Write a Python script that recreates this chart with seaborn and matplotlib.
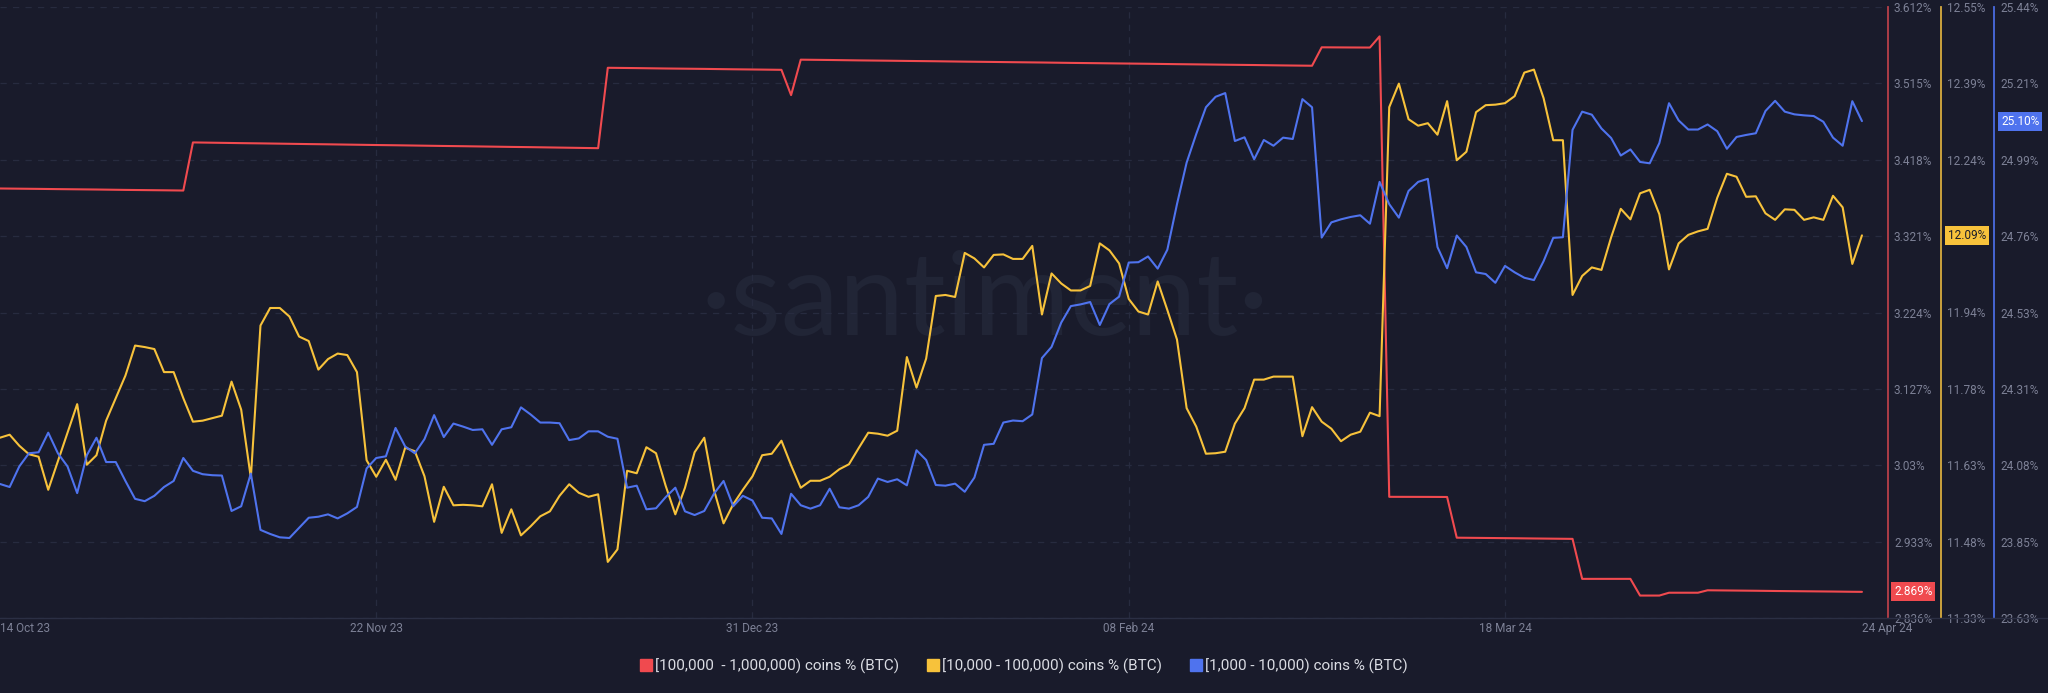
import numpy as np
import pandas as pd
import matplotlib
matplotlib.use("Agg")
import matplotlib.pyplot as plt
import matplotlib.transforms as mtransforms
from matplotlib.lines import Line2D
import seaborn as sns

# ---------------- data ----------------
start_date = "2023-10-14"

series_names = [
    "[100,000  - 1,000,000) coins % (BTC)",
    "[10,000 - 100,000) coins % (BTC)",
    "[1,000 - 10,000) coins % (BTC)",
]

red_vals = [
    3.3815, 3.3814, 3.3812, 3.3811, 3.3810, 3.3808, 3.3807, 3.3806, 3.3804, 3.3803,
    3.3802, 3.3800, 3.3799, 3.3797, 3.3796, 3.3795, 3.3793, 3.3792, 3.3790, 3.3789,
    3.4400, 3.4398, 3.4397, 3.4395, 3.4393, 3.4391, 3.4390, 3.4388, 3.4386, 3.4385,
    3.4383, 3.4381, 3.4379, 3.4378, 3.4376, 3.4374, 3.4373, 3.4371, 3.4369, 3.4367,
    3.4366, 3.4364, 3.4362, 3.4361, 3.4359, 3.4357, 3.4355, 3.4354, 3.4352, 3.4350,
    3.4349, 3.4347, 3.4345, 3.4343, 3.4342, 3.4340, 3.4338, 3.4337, 3.4335, 3.4333,
    3.4331, 3.4329, 3.4327,
    3.5348, 3.5347, 3.5345, 3.5344, 3.5342, 3.5341, 3.5339, 3.5338, 3.5336, 3.5335,
    3.5334, 3.5332, 3.5331, 3.5329, 3.5328, 3.5326, 3.5325, 3.5323, 3.5322,
    3.5001,
    3.5451, 3.5450, 3.5448, 3.5447, 3.5445, 3.5444, 3.5442, 3.5441, 3.5439, 3.5438,
    3.5436, 3.5435, 3.5434, 3.5432, 3.5431, 3.5429, 3.5428, 3.5426, 3.5425, 3.5423,
    3.5422, 3.5420, 3.5419, 3.5418, 3.5416, 3.5415, 3.5413, 3.5412, 3.5410, 3.5409,
    3.5407, 3.5406, 3.5404, 3.5403, 3.5402, 3.5400, 3.5399, 3.5397, 3.5396, 3.5394,
    3.5393, 3.5391, 3.5390, 3.5388, 3.5387, 3.5386, 3.5384, 3.5383, 3.5381, 3.5380,
    3.5378, 3.5377, 3.5375, 3.5374,
    3.5608, 3.5607, 3.5607, 3.5606, 3.5606, 3.5605,
    3.5747,
    2.9899, 2.9899, 2.9898, 2.9898, 2.9898, 2.9897, 2.9897,
    2.9380, 2.9379, 2.9378, 2.9376, 2.9375, 2.9374, 2.9373, 2.9371, 2.9370, 2.9369,
    2.9368, 2.9366, 2.9365,
    2.8857, 2.8857, 2.8857, 2.8857, 2.8857, 2.8857,
    2.8645, 2.8645, 2.8645,
    2.8681, 2.8681, 2.8681, 2.8681,
    2.8712, 2.8711, 2.8709, 2.8708, 2.8707, 2.8706, 2.8704, 2.8703, 2.8702, 2.8701,
    2.8699, 2.8698, 2.8697, 2.8696, 2.8694, 2.8693, 2.8692,
]

yellow_vals = [
    11.690, 11.696, 11.674, 11.657, 11.652, 11.586, 11.643, 11.700, 11.757, 11.636,
    11.655, 11.724, 11.769, 11.814, 11.874, 11.871, 11.867, 11.821, 11.821, 11.769,
    11.722, 11.724, 11.729, 11.734, 11.802, 11.746, 11.610, 11.914, 11.949, 11.949,
    11.932, 11.892, 11.883, 11.826, 11.847, 11.858, 11.855, 11.821, 11.645, 11.612,
    11.646, 11.606, 11.670, 11.663, 11.613, 11.522, 11.592, 11.555, 11.556, 11.555,
    11.553, 11.597, 11.500, 11.547, 11.495, 11.513, 11.533, 11.543, 11.574, 11.597,
    11.580, 11.572, 11.577, 11.442, 11.467, 11.624, 11.619, 11.671, 11.659, 11.594,
    11.537, 11.590, 11.661, 11.690, 11.586, 11.519, 11.557, 11.586, 11.613, 11.655,
    11.658, 11.684, 11.635, 11.590, 11.604, 11.604, 11.612, 11.627, 11.637, 11.669,
    11.700, 11.698, 11.694, 11.704, 11.851, 11.790, 11.848, 11.973, 11.975, 11.971,
    12.059, 12.048, 12.030, 12.055, 12.056, 12.047, 12.047, 12.073, 11.936, 12.018,
    11.998, 11.984, 11.984, 11.993, 12.078, 12.064, 12.038, 11.967, 11.942, 11.936,
    12.002, 11.945, 11.886, 11.749, 11.712, 11.658, 11.659, 11.662, 11.718, 11.749,
    11.806, 11.806, 11.812, 11.812, 11.812, 11.693, 11.751, 11.722, 11.708, 11.683,
    11.696, 11.702, 11.740, 11.733, 12.350, 12.397, 12.326, 12.313, 12.318, 12.295,
    12.362, 12.244, 12.261, 12.340, 12.354, 12.355, 12.358, 12.372, 12.419, 12.425,
    12.368, 12.284, 12.284, 11.975, 12.013, 12.030, 12.025, 12.090, 12.147, 12.126,
    12.178, 12.185, 12.136, 12.026, 12.078, 12.095, 12.102, 12.107, 12.169, 12.217,
    12.211, 12.171, 12.172, 12.138, 12.125, 12.146, 12.145, 12.125, 12.130, 12.125,
    12.173, 12.150, 12.037, 12.094,
]

blue_vals = [
    24.027, 24.018, 24.079, 24.118, 24.121, 24.179, 24.118, 24.079, 24.000, 24.112,
    24.164, 24.092, 24.092, 24.036, 23.983, 23.976, 23.992, 24.018, 24.036, 24.104,
    24.066, 24.056, 24.053, 24.052, 23.947, 23.961, 24.058, 23.891, 23.879, 23.869,
    23.867, 23.897, 23.927, 23.930, 23.937, 23.925, 23.940, 23.959, 24.073, 24.104,
    24.109, 24.193, 24.138, 24.118, 24.160, 24.231, 24.166, 24.206, 24.197, 24.187,
    24.189, 24.143, 24.189, 24.195, 24.254, 24.233, 24.209, 24.209, 24.207, 24.157,
    24.162, 24.183, 24.183, 24.167, 24.161, 24.016, 24.022, 23.952, 23.955, 23.988,
    24.016, 23.946, 23.935, 23.947, 23.998, 24.036, 23.961, 23.992, 23.978, 23.927,
    23.925, 23.879, 23.998, 23.964, 23.954, 23.964, 24.013, 23.958, 23.954, 23.964,
    23.989, 24.043, 24.033, 24.041, 24.023, 24.127, 24.098, 24.024, 24.022, 24.028,
    24.004, 24.046, 24.143, 24.146, 24.209, 24.215, 24.213, 24.233, 24.400, 24.433,
    24.505, 24.554, 24.559, 24.566, 24.498, 24.560, 24.582, 24.683, 24.684, 24.701,
    24.665, 24.721, 24.856, 24.979, 25.064, 25.143, 25.174, 25.185, 25.043, 25.054,
    24.989, 25.046, 25.029, 25.053, 25.049, 25.167, 25.143, 24.757, 24.802, 24.811,
    24.818, 24.823, 24.798, 24.922, 24.856, 24.816, 24.895, 24.922, 24.931, 24.729,
    24.666, 24.763, 24.729, 24.654, 24.649, 24.623, 24.673, 24.654, 24.638, 24.631,
    24.687, 24.756, 24.758, 25.076, 25.130, 25.121, 25.080, 25.052, 25.000, 25.018,
    24.981, 24.977, 25.037, 25.155, 25.104, 25.077, 25.077, 25.092, 25.072, 25.020,
    25.055, 25.061, 25.066, 25.132, 25.162, 25.130, 25.122, 25.119, 25.117, 25.100,
    25.053, 25.029, 25.161, 25.102,
]

x_tick_dates = ["2023-10-14", "2023-11-22", "2023-12-31", "2024-02-08", "2024-03-18", "2024-04-24"]
x_tick_labels = ["14 Oct 23", "22 Nov 23", "31 Dec 23", "08 Feb 24", "18 Mar 24", "24 Apr 24"]

red_tick_labels = ["2.836%", "2.933%", "3.03%", "3.127%", "3.224%", "3.321%", "3.418%", "3.515%", "3.612%"]
yellow_tick_labels = ["11.33%", "11.48%", "11.63%", "11.78%", "11.94%", "12.09%", "12.24%", "12.39%", "12.55%"]
blue_tick_labels = ["23.63%", "23.85%", "24.08%", "24.31%", "24.53%", "24.76%", "24.99%", "25.21%", "25.44%"]
red_range = (2.836, 3.612)
yellow_range = (11.33, 12.55)
blue_range = (23.63, 25.44)

# ---------------- style ----------------
BG = "#191b2b"
GRID = "#272b3f"
TICK = "#7d8196"
RED, YEL, BLU = "#f04a4f", "#f7c23b", "#4f73ee"
RED_SP, YEL_SP, BLU_SP = "#b8404a", "#d9ad3f", "#4a6be0"

sns.set_theme(style="dark", rc={"axes.facecolor": BG, "figure.facecolor": BG})
plt.rcParams["font.family"] = ["Roboto", "DejaVu Sans"]

n = min(len(red_vals), len(yellow_vals), len(blue_vals))
dates = pd.date_range(start_date, periods=n, freq="D")
df = pd.DataFrame({"date": dates, "red": red_vals[:n], "yellow": yellow_vals[:n], "blue": blue_vals[:n]})

W, H = 2048, 693
fig = plt.figure(figsize=(W / 100, H / 100), dpi=100, facecolor=BG)
ax_right_px, ax_top_px, ax_bot_px = 1888, 7, 618
ax = fig.add_axes([0, 1 - ax_bot_px / H, ax_right_px / W, (ax_bot_px - ax_top_px) / H])
ax.set_facecolor(BG)

# watermark
ax.text(985 / W, 1 - 302 / H, "·santiment·", transform=fig.transFigure, ha="center", va="center",
        fontsize=84, color="#212536", zorder=0.5, family=["Lato", "DejaVu Sans"], fontweight="normal")

sns.lineplot(data=df, x="date", y="red", ax=ax, color=RED, linewidth=1.5, legend=False, zorder=3)
ax2 = ax.twinx()
ax3 = ax.twinx()
sns.lineplot(data=df, x="date", y="yellow", ax=ax2, color=YEL, linewidth=1.5, legend=False)
sns.lineplot(data=df, x="date", y="blue", ax=ax3, color=BLU, linewidth=1.5, legend=False)

ax.yaxis.tick_right()
ax.yaxis.set_label_position("right")

axis_specs = [
    (ax, red_range, red_tick_labels, 1.0, RED_SP),
    (ax2, yellow_range, yellow_tick_labels, 1941 / ax_right_px, YEL_SP),
    (ax3, blue_range, blue_tick_labels, 1994 / ax_right_px, BLU_SP),
]
for a, rng, labs, pos, col in axis_specs:
    a.set_ylim(*rng)
    a.set_yticks(np.linspace(rng[0], rng[1], len(labs)))
    a.set_yticklabels(labs)
    a.tick_params(axis="y", length=0, pad=4.3, labelcolor=TICK, labelsize=8.5)
    a.set_ylabel("")
    a.set_xlabel("")
    for s in ["left", "top"]:
        a.spines[s].set_visible(False)
    a.spines["right"].set_visible(True)
    a.spines["right"].set_position(("axes", pos))
    a.spines["right"].set_color(col)
    a.spines["right"].set_linewidth(1.3)
    for lab in a.get_yticklabels():
        lab.set_ha("left")

for a in (ax2, ax3):
    a.spines["bottom"].set_visible(False)
    a.grid(False)
    a.tick_params(axis="x", bottom=False, labelbottom=False)

xt = pd.to_datetime(x_tick_dates)
ax.set_xlim(dates[0], dates[-1] + pd.Timedelta(days=2.7))
ax2.set_xlim(ax.get_xlim())
ax3.set_xlim(ax.get_xlim())
ax.set_xticks(xt)
ax.set_xticklabels(x_tick_labels)
ax.tick_params(axis="x", length=0, pad=3, labelcolor=TICK, labelsize=8.5)
xl = ax.get_xticklabels()
xl[0].set_ha("left")
xl[-1].set_ha("left")

ax.grid(axis="y", color=GRID, linestyle=(0, (5, 5)), linewidth=0.9)
ax.grid(axis="x", visible=False)
for d in xt[1:-1]:
    ax.axvline(d, color=GRID, linestyle=(0, (5, 5)), linewidth=0.9, zorder=0.6)
ax.set_axisbelow(True)
ax.spines["bottom"].set_color("#2b2f44")
ax.spines["bottom"].set_linewidth(1.0)
fig.add_artist(Line2D([ax_right_px / W, 1], [1 - ax_bot_px / H] * 2, transform=fig.transFigure,
                      color="#2b2f44", linewidth=1.0))

# last-value boxes
box_specs = [
    (ax, df["red"].iloc[-1], "{:.3f}%", 1894 / ax_right_px, RED, "white"),
    (ax2, df["yellow"].iloc[-1], "{:.2f}%", 1948 / ax_right_px, YEL, "#1a1c2b"),
    (ax3, df["blue"].iloc[-1], "{:.2f}%", 2001 / ax_right_px, BLU, "white"),
]
for a, v, fmt, xpos, fc, tc in box_specs:
    tr = mtransforms.blended_transform_factory(a.transAxes, a.transData)
    a.text(xpos, v, fmt.format(v), transform=tr, ha="left", va="center", fontsize=8.5, color=tc,
           bbox=dict(boxstyle="square,pad=0.25", fc=fc, ec="none"), clip_on=False, zorder=10)

# legend
handles = [Line2D([], [], marker="s", linestyle="none", color=c, markersize=8.5) for c in (RED, YEL, BLU)]
fig.legend(handles, series_names, loc="center", bbox_to_anchor=(0.5, 1 - 666 / H), ncol=3,
           frameon=False, labelcolor="#dadce3", fontsize=11, handletextpad=0.2,
           columnspacing=1.8, handlelength=0.8)

fig.savefig("out.png", dpi=100, facecolor=BG)
